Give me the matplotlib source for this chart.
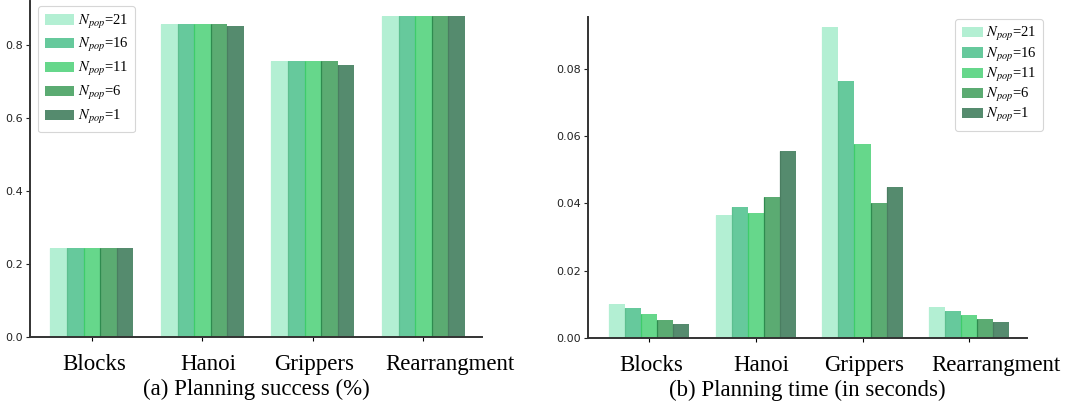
import numpy as np
import matplotlib.pyplot as plt
from matplotlib.transforms import ScaledTranslation

plt.rcParams['mathtext.fontset'] = 'stix'

tasks = ['Blocks', 'Hanoi', 'Grippers', 'Rearrangment']
pop_sizes = [21, 16, 11, 6, 1]

# planning success rate per task, one list per population size
success = {
    21: [0.245, 0.857, 0.756, 0.880],
    16: [0.245, 0.857, 0.756, 0.880],
    11: [0.245, 0.857, 0.756, 0.880],
    6: [0.245, 0.857, 0.756, 0.880],
    1: [0.245, 0.852, 0.745, 0.880],
}

# planning time in seconds
plan_time = {
    21: [0.0101, 0.0366, 0.0924, 0.0093],
    16: [0.0089, 0.0390, 0.0764, 0.0081],
    11: [0.0071, 0.0372, 0.0577, 0.0069],
    6: [0.0054, 0.0419, 0.0401, 0.0057],
    1: [0.0042, 0.0556, 0.0449, 0.0048],
}

face_colors = ['#b3efd3', '#66c99c', '#66d78b', '#5bab72', '#558b6e']
side_colors = ['#b3efd3', '#5cbf8f', '#3ecc6a', '#2e8b4f', '#4a7d61']

serif = ['Liberation Serif', 'DejaVu Serif']

# horizontal nudge of the task names (points)
label_shift = [2, 4, 1, 19]


def grouped_bars(ax, data, ylim, xlim, caption, legend_kw, legend_size):
    x = np.arange(len(tasks))
    width = 0.15
    for i, n in enumerate(pop_sizes):
        offset = (i - 2) * width
        ax.bar(x + offset, data[n], width, color=face_colors[i],
               linewidth=0, label=r'$N_{pop}$=' + str(n))
        # thin darker line along the left side of each bar
        ax.vlines(x + offset - width / 2, 0, data[n], color=side_colors[i],
                  linewidth=0.9)
    ax.set_xticks(x)
    ax.set_xticklabels(tasks, fontsize=16.5, family=serif)
    ax.set_xlim(*xlim)
    ax.set_ylim(*ylim)
    ax.tick_params(axis='y', labelsize=8, length=3, width=0.8, colors='#222222', pad=2)
    ax.tick_params(axis='x', length=3, width=0.8, pad=9)
    # shift after tick_params, which resets the label transforms
    for lbl, dx in zip(ax.get_xticklabels(), label_shift):
        lbl.set_transform(lbl.get_transform() +
                          ScaledTranslation(dx / 72, 0, ax.figure.dpi_scale_trans))
    for side in ['top', 'right']:
        ax.spines[side].set_visible(False)
    for side in ['left', 'bottom']:
        ax.spines[side].set_color('#333333')
        ax.spines[side].set_linewidth(1.4)
    ax.set_xlabel(caption, fontsize=16.5, family=serif, labelpad=3)
    leg = ax.legend(prop={'family': serif, 'size': legend_size}, borderaxespad=0,
                    **legend_kw)
    leg.get_frame().set_edgecolor('#cccccc')
    leg.get_frame().set_linewidth(0.8)


fig = plt.figure(figsize=(10.91, 4.16), dpi=100)
ax1 = fig.add_axes([30 / 1091, 79 / 416, 452 / 1091, 336 / 416])
ax2 = fig.add_axes([588 / 1091, 78 / 416, 439 / 1091, 321 / 416])

grouped_bars(ax1, success, (0, 0.92), (-0.56, 3.53), '(a) Planning success (%)',
             dict(loc='upper left', bbox_to_anchor=(0.018, 0.985),
                  handlelength=2.0, labelspacing=0.4, borderpad=0.45,
                  handletextpad=0.25), 10.5)
ax1.set_yticks([0.0, 0.2, 0.4, 0.6, 0.8])

grouped_bars(ax2, plan_time, (0, 0.0954), (-0.57, 3.54), '(b) Planning time (in seconds)',
             dict(loc='upper right', bbox_to_anchor=(1.036, 0.994),
                  handlelength=1.5, labelspacing=0.15, borderpad=0.45,
                  handletextpad=0.15), 10.5)
ax2.set_yticks([0.00, 0.02, 0.04, 0.06, 0.08])
ax2.set_yticklabels(['0.00', '0.02', '0.04', '0.06', '0.08'])

fig.savefig('out.png', dpi=100)
